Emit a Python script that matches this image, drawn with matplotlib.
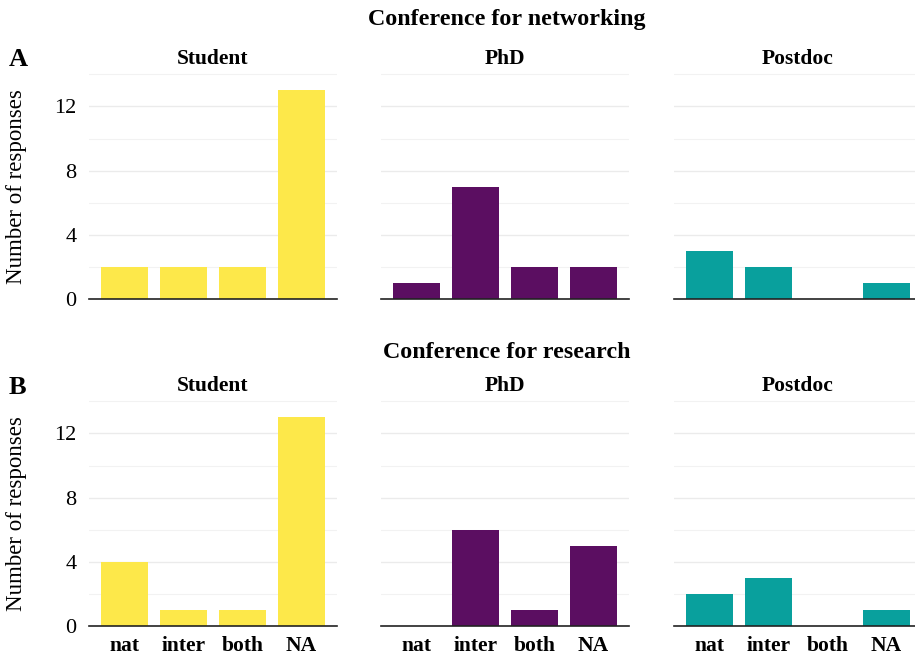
import matplotlib
matplotlib.use("Agg")
import matplotlib.pyplot as plt
from matplotlib.ticker import MultipleLocator

plt.rcParams['font.family'] = ['Liberation Serif', 'DejaVu Serif']

categories = ["nat", "inter", "both", "NA"]
groups = ["Student", "PhD", "Postdoc"]
colors = {"Student": "#FDE84A", "PhD": "#5B0E61", "Postdoc": "#09A09D"}

networking = {
    "Student": [2, 2, 2, 13],
    "PhD": [1, 7, 2, 2],
    "Postdoc": [3, 2, 0, 1],
}
research = {
    "Student": [4, 1, 1, 13],
    "PhD": [0, 6, 1, 5],
    "Postdoc": [2, 3, 0, 1],
}
rows = [("A", "Conference for networking", networking),
        ("B", "Conference for research", research)]

W, H = 915, 656
fig = plt.figure(figsize=(W / 100, H / 100), dpi=100)

col_px = [(89, 337), (381, 629), (674, 922)]
row_bottom_px = [299, 626]
unit_px = 16.05
ytop = 14.3


def fx(px):
    return px / W


def fy(py):
    return 1 - py / H


for r, (letter, title, data) in enumerate(rows):
    bottom = row_bottom_px[r]
    top = bottom - ytop * unit_px
    for c, g in enumerate(groups):
        x0, x1 = col_px[c]
        ax = fig.add_axes([fx(x0), fy(bottom), fx(x1 - x0), (bottom - top) / H])
        xs = range(1, len(categories) + 1)
        ax.bar(xs, data[g], width=0.8, color=colors[g], zorder=3)
        ax.set_xlim(0.4, len(categories) + 0.6)
        ax.set_ylim(0, ytop)
        ax.yaxis.set_major_locator(MultipleLocator(4))
        ax.yaxis.set_minor_locator(MultipleLocator(2))
        ax.grid(axis='y', which='major', color='#EBEBEB', lw=1.0, zorder=0)
        ax.grid(axis='y', which='minor', color='#F2F2F2', lw=0.8, zorder=0)
        for s in ['top', 'right', 'left']:
            ax.spines[s].set_visible(False)
        ax.spines['bottom'].set_color('#222222')
        ax.spines['bottom'].set_linewidth(1.2)
        ax.spines['bottom'].set_zorder(4)
        ax.tick_params(axis='both', which='both', length=0)
        ax.set_xticks(list(xs))
        if r == 1:
            ax.set_xticklabels(categories, fontsize=15.5, fontweight='bold')
            ax.tick_params(axis='x', pad=7)
        else:
            ax.set_xticklabels([])
        if c == 0:
            ax.tick_params(axis='y', labelsize=16, pad=9)
        else:
            ax.set_yticklabels([])
        ax.set_title(g, fontsize=15.5, fontweight='bold', pad=1)
    fig.text(fx(17), fy((top + bottom) / 2 + 2), "Number of responses", rotation=90,
             ha='center', va='center', fontsize=16.5)
    fig.text(fx(507), fy(19 if r == 0 else 353), title, ha='center', va='center',
             fontsize=17.3, fontweight='bold')
    fig.text(fx(9), fy(60 if r == 0 else 387), letter, ha='left', va='center',
             fontsize=19, fontweight='bold')

fig.savefig("out.png", dpi=100)
